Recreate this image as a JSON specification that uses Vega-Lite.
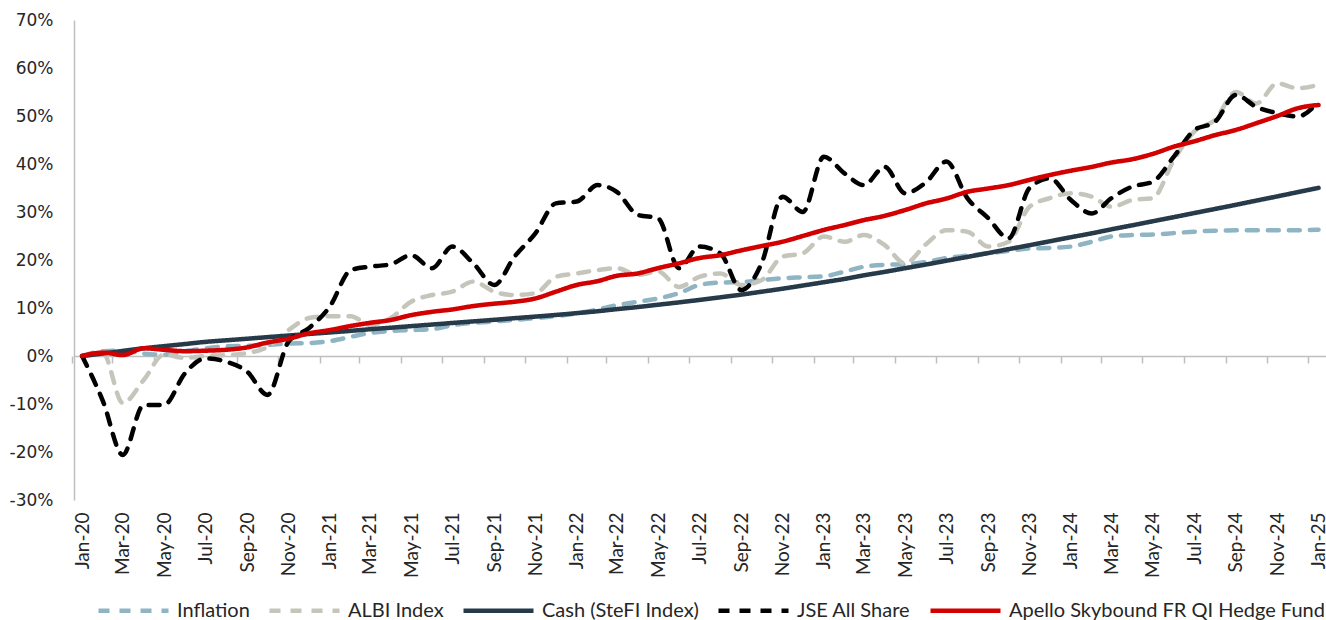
{
  "$schema": "https://vega.github.io/schema/vega-lite/v6.json",
  "width": 1252,
  "height": 480,
  "autosize": {"type": "none"},
  "padding": {"left": 74, "top": 20, "right": 0, "bottom": 120},
  "background": "white",
  "config": {
    "view": {"stroke": null},
    "font": "Lato",
    "legend": {
      "orient": "none",
      "legendX": 22,
      "legendY": 553,
      "direction": "horizontal",
      "symbolType": "stroke",
      "symbolSize": 4900,
      "symbolStrokeWidth": 4.5,
      "labelFont": "Lato",
      "labelFontSize": 20,
      "labelLimit": 0,
      "labelColor": "#262626",
      "labelOffset": 6,
      "columnPadding": 10,
      "title": null
    }
  },
  "data": {
    "values": [
      {"d": "2020-01-01", "Inflation": 0, "ALBI Index": 0, "Cash (SteFI Index)": 0, "JSE All Share": 0, "Apello Skybound FR QI Hedge Fund": 0},
      {"d": "2020-02-01", "Inflation": 1.0, "ALBI Index": 0.5, "Cash (SteFI Index)": 0.53, "JSE All Share": -9.5, "Apello Skybound FR QI Hedge Fund": 0.7},
      {"d": "2020-03-01", "Inflation": 1.1, "ALBI Index": -9.8, "Cash (SteFI Index)": 1.06, "JSE All Share": -20.6, "Apello Skybound FR QI Hedge Fund": 0.2},
      {"d": "2020-04-01", "Inflation": 0.5, "ALBI Index": -5.0, "Cash (SteFI Index)": 1.61, "JSE All Share": -10.2, "Apello Skybound FR QI Hedge Fund": 1.6},
      {"d": "2020-05-01", "Inflation": 0.3, "ALBI Index": 0.3, "Cash (SteFI Index)": 2.05, "JSE All Share": -10.2, "Apello Skybound FR QI Hedge Fund": 1.3},
      {"d": "2020-06-01", "Inflation": 1.0, "ALBI Index": -0.4, "Cash (SteFI Index)": 2.49, "JSE All Share": -3.6, "Apello Skybound FR QI Hedge Fund": 1.0},
      {"d": "2020-07-01", "Inflation": 1.6, "ALBI Index": 0.0, "Cash (SteFI Index)": 2.94, "JSE All Share": -0.5, "Apello Skybound FR QI Hedge Fund": 1.1},
      {"d": "2020-08-01", "Inflation": 2.0, "ALBI Index": 0.2, "Cash (SteFI Index)": 3.27, "JSE All Share": -1.2, "Apello Skybound FR QI Hedge Fund": 1.3},
      {"d": "2020-09-01", "Inflation": 2.1, "ALBI Index": 0.6, "Cash (SteFI Index)": 3.60, "JSE All Share": -3.3, "Apello Skybound FR QI Hedge Fund": 1.8},
      {"d": "2020-10-01", "Inflation": 2.3, "ALBI Index": 1.9, "Cash (SteFI Index)": 3.93, "JSE All Share": -8.1, "Apello Skybound FR QI Hedge Fund": 2.8},
      {"d": "2020-11-01", "Inflation": 2.6, "ALBI Index": 5.4, "Cash (SteFI Index)": 4.26, "JSE All Share": 3.0, "Apello Skybound FR QI Hedge Fund": 3.6},
      {"d": "2020-12-01", "Inflation": 2.7, "ALBI Index": 7.9, "Cash (SteFI Index)": 4.59, "JSE All Share": 5.8, "Apello Skybound FR QI Hedge Fund": 4.7},
      {"d": "2021-01-01", "Inflation": 3.1, "ALBI Index": 8.3, "Cash (SteFI Index)": 4.91, "JSE All Share": 10.3, "Apello Skybound FR QI Hedge Fund": 5.4},
      {"d": "2021-02-01", "Inflation": 4.0, "ALBI Index": 8.3, "Cash (SteFI Index)": 5.24, "JSE All Share": 17.9, "Apello Skybound FR QI Hedge Fund": 6.25},
      {"d": "2021-03-01", "Inflation": 4.8, "ALBI Index": 6.5, "Cash (SteFI Index)": 5.57, "JSE All Share": 18.6, "Apello Skybound FR QI Hedge Fund": 6.9},
      {"d": "2021-04-01", "Inflation": 5.2, "ALBI Index": 7.9, "Cash (SteFI Index)": 5.89, "JSE All Share": 19.1, "Apello Skybound FR QI Hedge Fund": 7.5},
      {"d": "2021-05-01", "Inflation": 5.4, "ALBI Index": 11.3, "Cash (SteFI Index)": 6.22, "JSE All Share": 21.0, "Apello Skybound FR QI Hedge Fund": 8.5},
      {"d": "2021-06-01", "Inflation": 5.6, "ALBI Index": 12.7, "Cash (SteFI Index)": 6.55, "JSE All Share": 18.3, "Apello Skybound FR QI Hedge Fund": 9.2},
      {"d": "2021-07-01", "Inflation": 6.4, "ALBI Index": 13.4, "Cash (SteFI Index)": 6.88, "JSE All Share": 22.8, "Apello Skybound FR QI Hedge Fund": 9.7},
      {"d": "2021-08-01", "Inflation": 6.9, "ALBI Index": 15.5, "Cash (SteFI Index)": 7.21, "JSE All Share": 19.3, "Apello Skybound FR QI Hedge Fund": 10.4},
      {"d": "2021-09-01", "Inflation": 7.2, "ALBI Index": 13.4, "Cash (SteFI Index)": 7.54, "JSE All Share": 14.8, "Apello Skybound FR QI Hedge Fund": 10.9},
      {"d": "2021-10-01", "Inflation": 7.5, "ALBI Index": 12.7, "Cash (SteFI Index)": 7.88, "JSE All Share": 20.7, "Apello Skybound FR QI Hedge Fund": 11.3},
      {"d": "2021-11-01", "Inflation": 7.9, "ALBI Index": 13.1, "Cash (SteFI Index)": 8.21, "JSE All Share": 25.6, "Apello Skybound FR QI Hedge Fund": 12.0},
      {"d": "2021-12-01", "Inflation": 8.3, "ALBI Index": 16.5, "Cash (SteFI Index)": 8.55, "JSE All Share": 31.8, "Apello Skybound FR QI Hedge Fund": 13.4},
      {"d": "2022-01-01", "Inflation": 8.9, "ALBI Index": 17.2, "Cash (SteFI Index)": 8.93, "JSE All Share": 32.2, "Apello Skybound FR QI Hedge Fund": 14.8},
      {"d": "2022-02-01", "Inflation": 9.7, "ALBI Index": 17.9, "Cash (SteFI Index)": 9.33, "JSE All Share": 35.6, "Apello Skybound FR QI Hedge Fund": 15.6},
      {"d": "2022-03-01", "Inflation": 10.6, "ALBI Index": 18.3, "Cash (SteFI Index)": 9.76, "JSE All Share": 34.2, "Apello Skybound FR QI Hedge Fund": 16.7},
      {"d": "2022-04-01", "Inflation": 11.3, "ALBI Index": 16.9, "Cash (SteFI Index)": 10.20, "JSE All Share": 29.4, "Apello Skybound FR QI Hedge Fund": 17.2},
      {"d": "2022-05-01", "Inflation": 12.0, "ALBI Index": 17.6, "Cash (SteFI Index)": 10.68, "JSE All Share": 28.7, "Apello Skybound FR QI Hedge Fund": 18.3},
      {"d": "2022-06-01", "Inflation": 13.1, "ALBI Index": 14.4, "Cash (SteFI Index)": 11.17, "JSE All Share": 18.3, "Apello Skybound FR QI Hedge Fund": 19.3},
      {"d": "2022-07-01", "Inflation": 14.8, "ALBI Index": 16.5, "Cash (SteFI Index)": 11.68, "JSE All Share": 22.8, "Apello Skybound FR QI Hedge Fund": 20.4},
      {"d": "2022-08-01", "Inflation": 15.3, "ALBI Index": 17.2, "Cash (SteFI Index)": 12.22, "JSE All Share": 21.4, "Apello Skybound FR QI Hedge Fund": 21.0},
      {"d": "2022-09-01", "Inflation": 15.4, "ALBI Index": 14.8, "Cash (SteFI Index)": 12.79, "JSE All Share": 13.75, "Apello Skybound FR QI Hedge Fund": 22.0},
      {"d": "2022-10-01", "Inflation": 15.8, "ALBI Index": 15.8, "Cash (SteFI Index)": 13.39, "JSE All Share": 19.3, "Apello Skybound FR QI Hedge Fund": 22.9},
      {"d": "2022-11-01", "Inflation": 16.2, "ALBI Index": 20.7, "Cash (SteFI Index)": 14.02, "JSE All Share": 33.2, "Apello Skybound FR QI Hedge Fund": 23.8},
      {"d": "2022-12-01", "Inflation": 16.4, "ALBI Index": 21.4, "Cash (SteFI Index)": 14.68, "JSE All Share": 30.0, "Apello Skybound FR QI Hedge Fund": 25.0},
      {"d": "2023-01-01", "Inflation": 16.6, "ALBI Index": 24.9, "Cash (SteFI Index)": 15.37, "JSE All Share": 41.5, "Apello Skybound FR QI Hedge Fund": 26.25},
      {"d": "2023-02-01", "Inflation": 17.6, "ALBI Index": 23.8, "Cash (SteFI Index)": 16.07, "JSE All Share": 38.0, "Apello Skybound FR QI Hedge Fund": 27.3},
      {"d": "2023-03-01", "Inflation": 18.6, "ALBI Index": 25.2, "Cash (SteFI Index)": 16.80, "JSE All Share": 35.6, "Apello Skybound FR QI Hedge Fund": 28.3},
      {"d": "2023-04-01", "Inflation": 19.0, "ALBI Index": 23.1, "Cash (SteFI Index)": 17.53, "JSE All Share": 39.4, "Apello Skybound FR QI Hedge Fund": 29.2},
      {"d": "2023-05-01", "Inflation": 19.1, "ALBI Index": 19.3, "Cash (SteFI Index)": 18.29, "JSE All Share": 33.9, "Apello Skybound FR QI Hedge Fund": 30.4},
      {"d": "2023-06-01", "Inflation": 19.6, "ALBI Index": 23.3, "Cash (SteFI Index)": 19.06, "JSE All Share": 36.2, "Apello Skybound FR QI Hedge Fund": 31.8},
      {"d": "2023-07-01", "Inflation": 20.4, "ALBI Index": 26.2, "Cash (SteFI Index)": 19.84, "JSE All Share": 40.5, "Apello Skybound FR QI Hedge Fund": 32.8},
      {"d": "2023-08-01", "Inflation": 20.9, "ALBI Index": 25.9, "Cash (SteFI Index)": 20.64, "JSE All Share": 32.9, "Apello Skybound FR QI Hedge Fund": 34.2},
      {"d": "2023-09-01", "Inflation": 21.4, "ALBI Index": 22.8, "Cash (SteFI Index)": 21.45, "JSE All Share": 28.7, "Apello Skybound FR QI Hedge Fund": 34.9},
      {"d": "2023-10-01", "Inflation": 21.9, "ALBI Index": 23.8, "Cash (SteFI Index)": 22.26, "JSE All Share": 24.5, "Apello Skybound FR QI Hedge Fund": 35.6},
      {"d": "2023-11-01", "Inflation": 22.4, "ALBI Index": 31.1, "Cash (SteFI Index)": 23.08, "JSE All Share": 35.0, "Apello Skybound FR QI Hedge Fund": 36.7},
      {"d": "2023-12-01", "Inflation": 22.5, "ALBI Index": 32.9, "Cash (SteFI Index)": 23.90, "JSE All Share": 37.0, "Apello Skybound FR QI Hedge Fund": 37.7},
      {"d": "2024-01-01", "Inflation": 22.8, "ALBI Index": 33.9, "Cash (SteFI Index)": 24.74, "JSE All Share": 32.5, "Apello Skybound FR QI Hedge Fund": 38.6},
      {"d": "2024-02-01", "Inflation": 23.8, "ALBI Index": 33.2, "Cash (SteFI Index)": 25.56, "JSE All Share": 29.7, "Apello Skybound FR QI Hedge Fund": 39.4},
      {"d": "2024-03-01", "Inflation": 24.9, "ALBI Index": 31.1, "Cash (SteFI Index)": 26.39, "JSE All Share": 32.9, "Apello Skybound FR QI Hedge Fund": 40.3},
      {"d": "2024-04-01", "Inflation": 25.2, "ALBI Index": 32.5, "Cash (SteFI Index)": 27.23, "JSE All Share": 35.3, "Apello Skybound FR QI Hedge Fund": 41.0},
      {"d": "2024-05-01", "Inflation": 25.3, "ALBI Index": 32.9, "Cash (SteFI Index)": 28.07, "JSE All Share": 36.3, "Apello Skybound FR QI Hedge Fund": 42.1},
      {"d": "2024-06-01", "Inflation": 25.6, "ALBI Index": 40.8, "Cash (SteFI Index)": 28.92, "JSE All Share": 41.5, "Apello Skybound FR QI Hedge Fund": 43.6},
      {"d": "2024-07-01", "Inflation": 25.9, "ALBI Index": 46.7, "Cash (SteFI Index)": 29.77, "JSE All Share": 47.0, "Apello Skybound FR QI Hedge Fund": 44.7},
      {"d": "2024-08-01", "Inflation": 26.1, "ALBI Index": 49.2, "Cash (SteFI Index)": 30.63, "JSE All Share": 48.8, "Apello Skybound FR QI Hedge Fund": 46.0},
      {"d": "2024-09-01", "Inflation": 26.2, "ALBI Index": 55.0, "Cash (SteFI Index)": 31.50, "JSE All Share": 54.4, "Apello Skybound FR QI Hedge Fund": 47.1},
      {"d": "2024-10-01", "Inflation": 26.2, "ALBI Index": 52.6, "Cash (SteFI Index)": 32.37, "JSE All Share": 51.9, "Apello Skybound FR QI Hedge Fund": 48.5},
      {"d": "2024-11-01", "Inflation": 26.2, "ALBI Index": 56.8, "Cash (SteFI Index)": 33.25, "JSE All Share": 50.6, "Apello Skybound FR QI Hedge Fund": 50.0},
      {"d": "2024-12-01", "Inflation": 26.2, "ALBI Index": 55.8, "Cash (SteFI Index)": 34.13, "JSE All Share": 49.9, "Apello Skybound FR QI Hedge Fund": 51.6},
      {"d": "2025-01-01", "Inflation": 26.3, "ALBI Index": 56.5, "Cash (SteFI Index)": 35.02, "JSE All Share": 53.0, "Apello Skybound FR QI Hedge Fund": 52.3}
    ]
  },
  "transform": [
    {"fold": ["Inflation", "ALBI Index", "Cash (SteFI Index)", "JSE All Share", "Apello Skybound FR QI Hedge Fund"], "as": ["series", "value"]}
  ],
  "mark": {"type": "line", "strokeWidth": 4.5, "strokeCap": "round", "interpolate": "monotone"},
  "encoding": {
    "x": {
      "field": "d",
      "type": "temporal",
      "scale": {
        "type": "utc",
        "domain": [
          {"year": 2019, "month": 12, "date": 20, "utc": true},
          {"year": 2025, "month": 1, "date": 12, "utc": true}
        ]
      },
      "axis": {
        "title": null,
        "orient": "bottom",
        "offset": -144,
        "labelExpr": "utcFormat(datum.value, '%b-%y')",
        "values": [
          {"year": 2020, "month": 1, "date": 1, "utc": true}, {"year": 2020, "month": 3, "date": 1, "utc": true},
          {"year": 2020, "month": 5, "date": 1, "utc": true}, {"year": 2020, "month": 7, "date": 1, "utc": true},
          {"year": 2020, "month": 9, "date": 1, "utc": true}, {"year": 2020, "month": 11, "date": 1, "utc": true},
          {"year": 2021, "month": 1, "date": 1, "utc": true}, {"year": 2021, "month": 3, "date": 1, "utc": true},
          {"year": 2021, "month": 5, "date": 1, "utc": true}, {"year": 2021, "month": 7, "date": 1, "utc": true},
          {"year": 2021, "month": 9, "date": 1, "utc": true}, {"year": 2021, "month": 11, "date": 1, "utc": true},
          {"year": 2022, "month": 1, "date": 1, "utc": true}, {"year": 2022, "month": 3, "date": 1, "utc": true},
          {"year": 2022, "month": 5, "date": 1, "utc": true}, {"year": 2022, "month": 7, "date": 1, "utc": true},
          {"year": 2022, "month": 9, "date": 1, "utc": true}, {"year": 2022, "month": 11, "date": 1, "utc": true},
          {"year": 2023, "month": 1, "date": 1, "utc": true}, {"year": 2023, "month": 3, "date": 1, "utc": true},
          {"year": 2023, "month": 5, "date": 1, "utc": true}, {"year": 2023, "month": 7, "date": 1, "utc": true},
          {"year": 2023, "month": 9, "date": 1, "utc": true}, {"year": 2023, "month": 11, "date": 1, "utc": true},
          {"year": 2024, "month": 1, "date": 1, "utc": true}, {"year": 2024, "month": 3, "date": 1, "utc": true},
          {"year": 2024, "month": 5, "date": 1, "utc": true}, {"year": 2024, "month": 7, "date": 1, "utc": true},
          {"year": 2024, "month": 9, "date": 1, "utc": true}, {"year": 2024, "month": 11, "date": 1, "utc": true},
          {"year": 2025, "month": 1, "date": 1, "utc": true}
        ],
        "grid": false,
        "domain": true,
        "domainColor": "#BFBFBF",
        "domainWidth": 1.5,
        "ticks": true,
        "tickColor": "#BFBFBF",
        "tickWidth": 1.5,
        "tickSize": 7,
        "tickOffset": -10.3,
        "labelOffset": 10.3,
        "labelAngle": -90,
        "labelPadding": 149,
        "labelFont": "Lato",
        "labelFontSize": 19,
        "labelColor": "#262626",
        "labelFlush": false,
        "labelOverlap": false,
        "labelBound": false
      }
    },
    "y": {
      "field": "value",
      "type": "quantitative",
      "scale": {"domain": [-30, 70], "nice": false, "zero": false},
      "axis": {
        "title": null,
        "values": [-30, -20, -10, 0, 10, 20, 30, 40, 50, 60, 70],
        "labelExpr": "datum.value + '%'",
        "grid": false,
        "ticks": false,
        "domain": true,
        "domainColor": "#BFBFBF",
        "domainWidth": 1.5,
        "labelPadding": 21,
        "labelFont": "DejaVu Sans",
        "labelFontSize": 17,
        "labelColor": "#262626"
      }
    },
    "color": {
      "field": "series",
      "type": "nominal",
      "title": null,
      "scale": {
        "domain": ["Inflation", "ALBI Index", "Cash (SteFI Index)", "JSE All Share", "Apello Skybound FR QI Hedge Fund"],
        "range": ["#8FB5C4", "#C6C5BC", "#263A4A", "#000000", "#D20000"]
      }
    },
    "strokeDash": {
      "field": "series",
      "type": "nominal",
      "title": null,
      "scale": {
        "domain": ["Inflation", "ALBI Index", "Cash (SteFI Index)", "JSE All Share", "Apello Skybound FR QI Hedge Fund"],
        "range": [[11, 10], [11, 10], [1, 0], [11, 10], [1, 0]]
      }
    }
  }
}
